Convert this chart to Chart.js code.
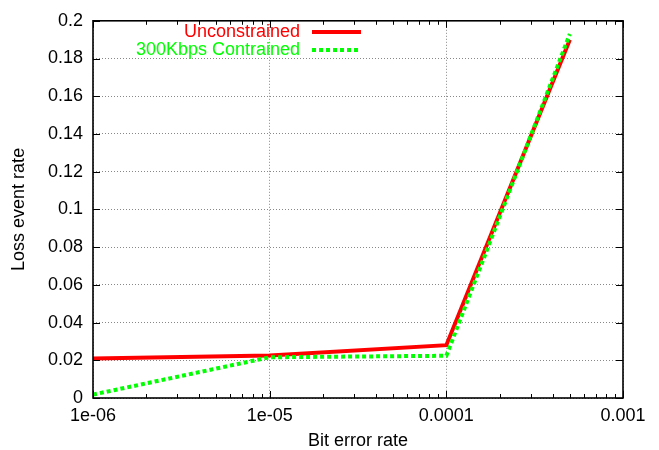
<!DOCTYPE html>
<html>
<head>
<meta charset="utf-8">
<script src="https://cdn.jsdelivr.net/npm/chart.js@4"></script>
<style>
  html, body { margin: 0; padding: 0; background: #fff; }
  #wrap { width: 659px; height: 450px; }
</style>
</head>
<body>
<div id="wrap"><canvas id="lossChart" width="659" height="450"></canvas></div>
<script>
const bitErrorRates = [1e-6, 1e-5, 1e-4, 5e-4];
const unconstrained = [0.021, 0.0226, 0.028, 0.190];
const constrained300k = [0.0018, 0.0216, 0.0224, 0.193];

const xTickValues = [1e-6, 1e-5, 1e-4, 1e-3];
const xTickLabels = ['1e-06', '1e-05', '0.0001', '0.001'];
const yTickValues = [0, 0.02, 0.04, 0.06, 0.08, 0.1, 0.12, 0.14, 0.16, 0.18, 0.2];
const yTickLabels = ['0', '0.02', '0.04', '0.06', '0.08', '0.1', '0.12', '0.14', '0.16', '0.18', '0.2'];

const FONT = 'Liberation Sans, Arial, Helvetica, sans-serif';
const FONT_SIZE = 18;

function toPoints(xs, ys) {
    return xs.map((x, i) => ({ x: x, y: ys[i] }));
}

// gnuplot style frame: border plus inward ticks on all four sides, and the key
const framePlugin = {
    id: 'frame',
    afterDatasetsDraw(chart) {
        const ctx = chart.ctx;
        const area = chart.chartArea;
        const xs = chart.scales.x;
        const ys = chart.scales.y;
        ctx.save();
        ctx.strokeStyle = '#000';
        ctx.lineWidth = 1;

        ctx.beginPath();
        // x ticks: majors at decades, minors at 2..9
        for (let d = 0; d < xTickValues.length; d++) {
            const dec = xTickValues[d];
            for (let m = 1; m <= 9; m++) {
                const v = dec * m;
                if (v > xTickValues[xTickValues.length - 1] + 1e-12) break;
                const px = Math.round(xs.getPixelForValue(v)) + 0.5;
                const len = m === 1 ? 7 : 4;
                ctx.moveTo(px, area.bottom);
                ctx.lineTo(px, area.bottom - len);
                ctx.moveTo(px, area.top);
                ctx.lineTo(px, area.top + len);
            }
        }
        // y ticks
        yTickValues.forEach(v => {
            const py = Math.round(ys.getPixelForValue(v)) + 0.5;
            ctx.moveTo(area.left, py);
            ctx.lineTo(area.left + 7, py);
            ctx.moveTo(area.right, py);
            ctx.lineTo(area.right - 7, py);
        });
        ctx.stroke();

        ctx.lineWidth = 1.6;
        ctx.strokeRect(area.left, area.top, area.right - area.left, area.bottom - area.top);

        // key
        ctx.font = FONT_SIZE + 'px ' + FONT;
        ctx.textAlign = 'right';
        ctx.textBaseline = 'middle';
        const textRight = 300;
        const lineStart = 312;
        const lineEnd = 361;
        chart.data.datasets.forEach((ds, i) => {
            const y = 32 + i * 18;
            ctx.fillStyle = ds.borderColor;
            ctx.fillText(ds.label, textRight, y);
            ctx.beginPath();
            ctx.strokeStyle = ds.borderColor;
            ctx.lineWidth = ds.borderWidth;
            ctx.lineCap = 'butt';
            ctx.setLineDash(ds.borderDash || []);
            ctx.moveTo(lineStart, y);
            ctx.lineTo(lineEnd, y);
            ctx.stroke();
            ctx.setLineDash([]);
        });
        ctx.restore();
    }
};

Chart.defaults.font.family = FONT;
Chart.defaults.font.size = FONT_SIZE;
Chart.defaults.color = '#000';

new Chart(document.getElementById('lossChart'), {
    type: 'line',
    data: {
        datasets: [{
            label: 'Unconstrained',
            data: toPoints(bitErrorRates, unconstrained),
            borderColor: '#ff0000',
            borderWidth: 4,
            pointRadius: 0,
            tension: 0,
            order: 1
        }, {
            label: '300Kbps Contrained',
            data: toPoints(bitErrorRates, constrained300k),
            borderColor: '#00ff00',
            borderWidth: 4,
            borderDash: [4, 3],
            borderCapStyle: 'butt',
            pointRadius: 0,
            tension: 0,
            order: 0
        }]
    },
    options: {
        responsive: false,
        animation: false,
        events: [],
        layout: { padding: { top: 16, right: 36, left: 0, bottom: 0 } },
        plugins: {
            legend: { display: false },
            tooltip: { enabled: false }
        },
        scales: {
            x: {
                type: 'logarithmic',
                min: 1e-6,
                max: 1e-3,
                afterBuildTicks: scale => {
                    scale.ticks = xTickValues.map(v => ({ value: v, major: true }));
                },
                afterFit: scale => { scale.height = 52; },
                ticks: {
                    autoSkip: false,
                    maxRotation: 0,
                    padding: 7,
                    callback: (value, index) => xTickLabels[index]
                },
                grid: { color: '#888', lineWidth: 1, drawTicks: false },
                border: { display: false, dash: [1, 2] },
                title: {
                    display: true,
                    text: 'Bit error rate',
                    font: { lineHeight: 1 },
                    padding: { top: 0, bottom: 0 }
                }
            },
            y: {
                type: 'linear',
                min: 0,
                max: 0.2,
                afterBuildTicks: scale => {
                    scale.ticks = yTickValues.map(v => ({ value: v }));
                },
                afterFit: scale => { scale.width = 93; },
                ticks: {
                    autoSkip: false,
                    padding: 10,
                    callback: (value, index) => yTickLabels[index]
                },
                grid: { color: '#888', lineWidth: 1, drawTicks: false },
                border: { display: false, dash: [1, 2] },
                title: {
                    display: true,
                    text: 'Loss event rate',
                    padding: { top: 8, bottom: 0 }
                }
            }
        }
    },
    plugins: [framePlugin]
});
</script>
</body>
</html>
